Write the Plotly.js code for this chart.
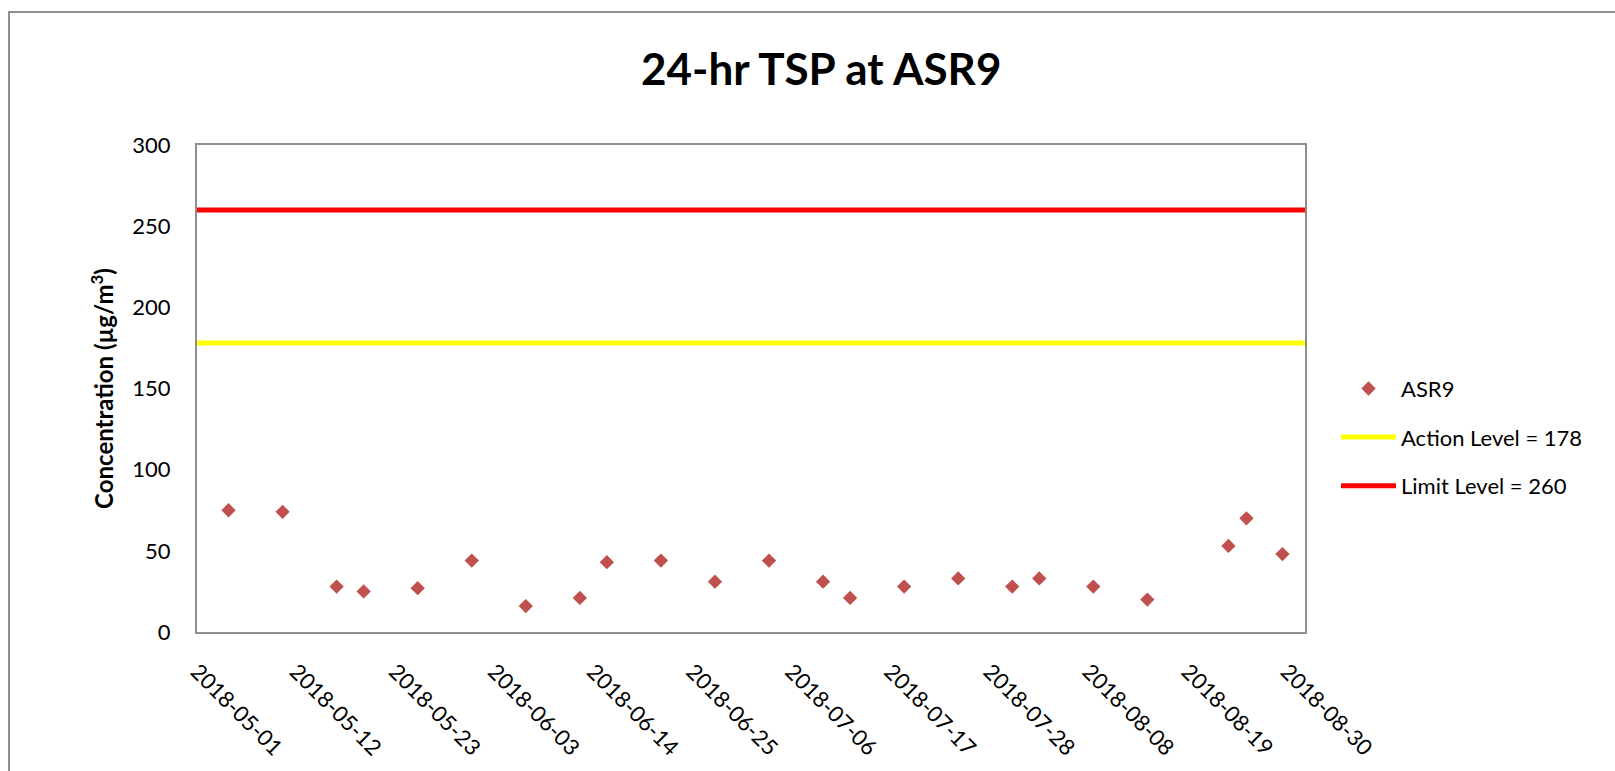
<!DOCTYPE html>
<html>
<head>
<meta charset="utf-8">
<script src="https://cdn.plot.ly/plotly-3.0.1.min.js"></script>
<style>
  html, body { margin: 0; padding: 0; background: #ffffff; }
  #chart { width: 1615px; height: 771px; position: absolute; left: 0; top: 0; }
  #frame { position: absolute; left: 8px; top: 11px; width: 1700px; height: 900px;
           border-left: 2px solid #8e8e8e; border-top: 2px solid #8e8e8e; pointer-events: none; }
</style>
</head>
<body>
<div id="chart"></div>
<div id="frame"></div>
<script>
// ---- data ----
const sampleDates = [
  '2018-05-04', '2018-05-10', '2018-05-16', '2018-05-19', '2018-05-25', '2018-05-31',
  '2018-06-06', '2018-06-12', '2018-06-15', '2018-06-21', '2018-06-27', '2018-07-03',
  '2018-07-09', '2018-07-12', '2018-07-18', '2018-07-24', '2018-07-30', '2018-08-02',
  '2018-08-08', '2018-08-14', '2018-08-23', '2018-08-25', '2018-08-29'
];
const asr9Values = [
  75, 74, 28, 25, 27, 44,
  16, 21, 43, 44, 31, 44,
  31, 21, 28, 33, 28, 33,
  28, 20, 53, 70, 48
];
const actionLevel = 178;
const limitLevel = 260;
const seriesNames = ['ASR9', 'Action Level = 178', 'Limit Level = 260'];
const axisStart = '2018-05-01';
const axisEnd = '2018-09-01';
const DAY = 86400000;

const traces = [
  {
    type: 'scatter', mode: 'markers', name: seriesNames[0],
    x: sampleDates, y: asr9Values,
    xperiod: DAY, xperiodalignment: 'middle',
    marker: { symbol: 'diamond', size: 11, color: '#C0504D' },
    legendgroup: 'a'
  },
  {
    type: 'scatter', mode: 'lines', name: seriesNames[1],
    x: [axisStart, axisEnd], y: [actionLevel, actionLevel],
    line: { color: '#FFFF00', width: 5 },
    cliponaxis: false, legendgroup: 'b'
  },
  {
    type: 'scatter', mode: 'lines', name: seriesNames[2],
    x: [axisStart, axisEnd], y: [limitLevel, limitLevel],
    line: { color: '#FF0000', width: 5 },
    cliponaxis: false, legendgroup: 'c'
  }
];

const layout = {
  width: 1615, height: 771,
  margin: { l: 197, r: 310, t: 145, b: 139, pad: 0 },
  paper_bgcolor: '#ffffff', plot_bgcolor: '#ffffff',
  font: { family: 'Lato, "Open Sans", sans-serif', size: 22, color: '#000000' },
  title: {
    text: '24-hr TSP at ASR9',
    font: { family: 'Lato, "Open Sans", sans-serif', size: 44, weight: 'bold', color: '#000000' },
    x: 0.5085, xanchor: 'center', xref: 'container',
    y: 0.91, yanchor: 'middle', yref: 'container'
  },
  xaxis: {
    type: 'date',
    range: [axisStart, axisEnd],
    tick0: axisStart, dtick: 11 * DAY,
    tickformat: '%Y-%m-%d',
    tickangle: 45,
    ticks: '', ticklabelstandoff: 16,
    showgrid: false, zeroline: false,
    showline: true, mirror: true, linecolor: '#8e8e8e', linewidth: 2,
    tickfont: { size: 22 }
  },
  yaxis: {
    range: [0, 300], dtick: 50, tick0: 0,
    ticks: '', ticklabelstandoff: 20,
    showgrid: false, zeroline: false,
    showline: true, mirror: true, linecolor: '#8e8e8e', linewidth: 2,
    tickfont: { size: 22 },
    title: {
      text: 'Concentration (µg/m<sup>3</sup>)',
      font: { size: 24, weight: 'bold' },
      standoff: 12
    }
  },
  showlegend: true,
  legend: {
    x: 1.028, xanchor: 'left', y: 0.40, yanchor: 'middle',
    font: { size: 22 },
    itemwidth: 55,
    tracegroupgap: 17,
    bgcolor: 'rgba(0,0,0,0)'
  }
};

Plotly.newPlot('chart', traces, layout, { displayModeBar: false, staticPlot: true });
</script>
</body>
</html>
